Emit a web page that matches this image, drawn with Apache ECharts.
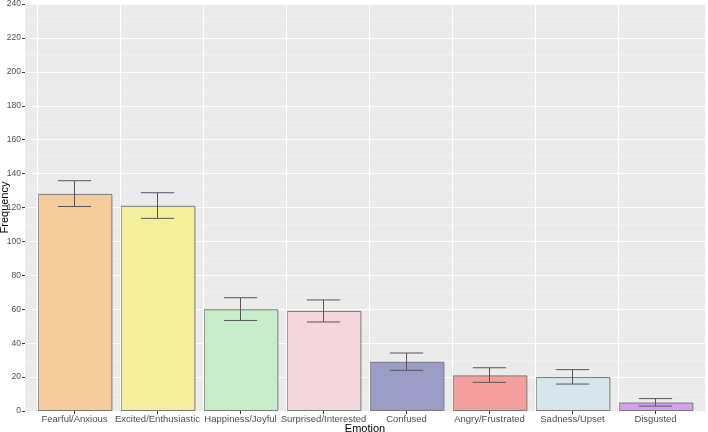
<!DOCTYPE html>
<html><head><meta charset="utf-8">
<script src="https://cdn.jsdelivr.net/npm/echarts@6/dist/echarts.min.js"></script>
<style>html,body{margin:0;padding:0;background:#fff}#c{width:708px;height:432px}</style>
</head><body><div id="c"></div>
<script>
const categories = ['Fearful/Anxious','Excited/Enthusiastic','Happiness/Joyful','Surprised/Interested','Confused','Angry/Frustrated','Sadness/Upset','Disgusted'];
const frequency = [128, 121, 60, 59, 29, 21, 20, 5];
const errLow = [120.6, 113.6, 53.4, 52.5, 24.0, 16.9, 15.9, 2.9];
const errHigh = [135.8, 128.7, 66.8, 65.5, 34.2, 25.5, 24.4, 7.3];
const barColors = ['#F5CC9C','#F3EF9B','#C9EDC9','#F3D7DD','#9C9CC9','#F49E9E','#D6E6EC','#D5A0EE'];
const yTicks = [0,20,40,60,80,100,120,140,160,180,200,220,240];

const chart = echarts.init(document.getElementById('c'));
const font = 'Liberation Sans, Arial, sans-serif';
chart.setOption({
  animation: false,
  grid: [
    {left: 25, right: 3, top: 4, bottom: 21, show: true, backgroundColor: '#EBEBEB', borderWidth: 0, containLabel: false, outerBoundsMode: 'none'},
    {left: 33, right: 11, top: 4, bottom: 21, containLabel: false, outerBoundsMode: 'none'}
  ],
  xAxis: [
    {gridIndex: 0, type: 'value', min: 0, max: 1, show: false},
    {gridIndex: 1, type: 'category', data: categories,
     axisLine: {show: false},
     axisTick: {show: true, alignWithLabel: true, length: 3, lineStyle: {color: '#333'}},
     axisLabel: {color: '#4D4D4D', fontSize: 9.5, fontFamily: font, margin: 3, interval: 0},
     splitLine: {show: false},
     name: 'Emotion', nameLocation: 'middle', nameGap: 12, nameMoveOverlap: false,
     nameTextStyle: {color: '#000', fontSize: 11, fontFamily: font, verticalAlign: 'top'}}
  ],
  yAxis: [
    {gridIndex: 0, type: 'value', min: yTicks[0], max: yTicks[yTicks.length-1], interval: 20,
     axisLine: {show: false},
     axisTick: {show: true, length: 3, lineStyle: {color: '#333'}},
     axisLabel: {color: '#4D4D4D', fontSize: 8.5, fontFamily: font, margin: 4},
     splitLine: {show: true, lineStyle: {color: '#FFFFFF', width: 1}},
     minorTick: {show: false, splitNumber: 2},
     minorSplitLine: {show: true, lineStyle: {color: '#F4F4F4', width: 0.6}},
     name: 'Frequency', nameLocation: 'middle', nameGap: 20, nameRotate: 90, nameMoveOverlap: false,
     nameTextStyle: {color: '#000', fontSize: 11, fontFamily: font, verticalAlign: 'middle'}},
    {gridIndex: 1, type: 'value', min: yTicks[0], max: yTicks[yTicks.length-1], show: false}
  ],
  series: [
    {type: 'bar', xAxisIndex: 1, yAxisIndex: 1, data: [], z: 1,
     markLine: {silent: true, symbol: 'none', label: {show: false},
       lineStyle: {color: '#FFFFFF', width: 1, type: 'solid'},
       data: categories.map(c => ({xAxis: c}))}},
    {type: 'bar', xAxisIndex: 1, yAxisIndex: 1, barWidth: '90%', z: 3,
     data: frequency.map((v, i) => ({value: v, itemStyle: {color: barColors[i]}})),
     itemStyle: {borderColor: '#7A7A7A', borderWidth: 1}},
    {type: 'custom', xAxisIndex: 1, yAxisIndex: 1, z: 5,
     data: categories.map((c, i) => [i, errLow[i], errHigh[i]]),
     renderItem: function (params, api) {
       const x = api.value(0);
       const lo = api.coord([x, api.value(1)]);
       const hi = api.coord([x, api.value(2)]);
       const hw = api.size([1, 0])[0] * 0.2;
       const st = {stroke: '#555555', lineWidth: 1};
       return {type: 'group', children: [
         {type: 'line', shape: {x1: lo[0], y1: lo[1], x2: hi[0], y2: hi[1]}, style: st},
         {type: 'line', shape: {x1: hi[0]-hw, y1: hi[1], x2: hi[0]+hw, y2: hi[1]}, style: st},
         {type: 'line', shape: {x1: lo[0]-hw, y1: lo[1], x2: lo[0]+hw, y2: lo[1]}, style: st}
       ]};
     }}
  ]
});
</script></body></html>
